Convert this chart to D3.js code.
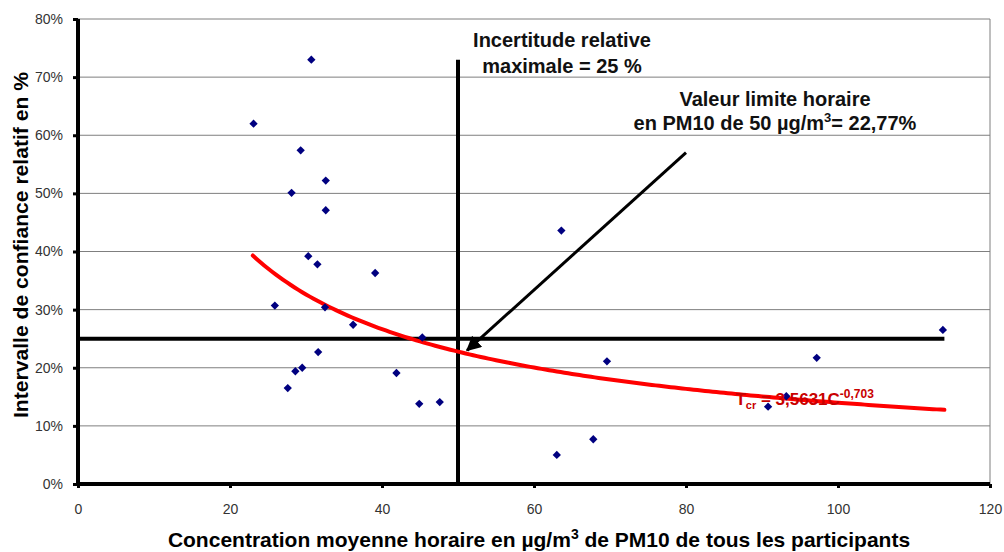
<!DOCTYPE html>
<html>
<head>
<meta charset="utf-8">
<script src="https://cdn.jsdelivr.net/npm/d3@7"></script>
<style>
  body { margin: 0; background: #fff; }
  text { font-family: "Liberation Sans", Arial, sans-serif; }
</style>
</head>
<body>
<div id="chart"></div>
<script>
// concentration (µg/m3) and relative confidence interval of each participant
var concentration = [30.7, 23.1, 29.3, 32.6, 28.1, 32.6, 30.3, 31.5, 39.1,
                     25.9, 32.5, 36.2, 45.3, 31.6, 28.6, 29.5, 27.6, 41.9, 44.9, 47.6,
                     63.6, 113.8, 69.6, 97.2, 90.8, 93.2, 67.8, 63.0];
var interval = [0.730, 0.620, 0.574, 0.522, 0.501, 0.471, 0.392, 0.378, 0.363,
                0.307, 0.304, 0.274, 0.252, 0.227, 0.194, 0.200, 0.165, 0.191, 0.138, 0.141,
                0.436, 0.265, 0.211, 0.217, 0.133, 0.151, 0.077, 0.050];

var xTicks = [0, 20, 40, 60, 80, 100, 120];
var yTicks = [0, 0.1, 0.2, 0.3, 0.4, 0.5, 0.6, 0.7, 0.8];

// power trend Tcr = a * C^b
var trendA = 3.5631;
var trendB = -0.703;
var trendRange = [23, 114];

var maxUncertainty = 0.25;      // horizontal line
var maxUncertaintyEnd = 114;
var limitValue = 50;            // vertical line
var limitValueTop = 0.73;
var arrowFrom = [80, 0.57];
var arrowTo = [51.2, 0.23];

var w = 1004, h = 552;

var x = d3.scaleLinear().domain([0, 120]).range([78, 990]);
var y = d3.scaleLinear().domain([0, 0.8]).range([484, 19]);

var svg = d3.select("#chart").append("svg")
    .attr("width", w)
    .attr("height", h);

svg.append("defs").append("marker")
    .attr("id", "head")
    .attr("viewBox", "0 0 10 10")
    .attr("refX", 9).attr("refY", 5)
    .attr("markerWidth", 5).attr("markerHeight", 5)
    .attr("orient", "auto")
    .append("path")
    .attr("d", "M0,0L10,5L0,10z")
    .attr("fill", "#000");

// gridlines
svg.selectAll("line.grid")
    .data(yTicks.slice(1))
    .enter().append("line")
    .attr("class", "grid")
    .attr("x1", x(0)).attr("x2", x(120))
    .attr("y1", function(d) { return y(d); })
    .attr("y2", function(d) { return y(d); })
    .attr("stroke", "#7f7f7f")
    .attr("stroke-width", 1);

// right border
svg.append("line")
    .attr("x1", x(120)).attr("x2", x(120))
    .attr("y1", y(0.8)).attr("y2", y(0))
    .attr("stroke", "#7f7f7f");

// axes
var yAxis = svg.append("g")
    .attr("transform", "translate(" + x(0) + ",0)")
    .call(d3.axisLeft(y).tickValues(yTicks).tickFormat(d3.format(".0%")).tickSize(5).tickPadding(10));
var xAxis = svg.append("g")
    .attr("transform", "translate(0," + y(0) + ")")
    .call(d3.axisBottom(x).tickValues(xTicks).tickSize(4).tickPadding(16));

[yAxis, xAxis].forEach(function(ax) {
    ax.select(".domain").attr("stroke", "#000").attr("stroke-width", 4);
    ax.selectAll(".tick line").attr("stroke", "#000").attr("stroke-width", 3);
    ax.selectAll(".tick text")
        .attr("font-family", "Liberation Sans, Arial, sans-serif")
        .attr("font-size", 14)
        .attr("fill", "#333");
});
xAxis.select(".domain").attr("d", "M" + x(0) + ",0H" + x(120));
yAxis.select(".domain").attr("d", "M0," + y(0.8) + "V" + y(0));

// 25% line and 50 µg/m3 line
svg.append("line")
    .attr("x1", x(0)).attr("x2", x(maxUncertaintyEnd))
    .attr("y1", y(maxUncertainty)).attr("y2", y(maxUncertainty))
    .attr("stroke", "#000").attr("stroke-width", 4);
svg.append("line")
    .attr("x1", x(limitValue)).attr("x2", x(limitValue))
    .attr("y1", y(0)).attr("y2", y(limitValueTop))
    .attr("stroke", "#000").attr("stroke-width", 4);

// trend curve
var trendPts = d3.range(trendRange[0], trendRange[1] + 0.01, 0.5).map(function(c) {
    return [c, trendA * Math.pow(c, trendB)];
});
svg.append("path")
    .datum(trendPts)
    .attr("d", d3.line().x(function(d) { return x(d[0]); }).y(function(d) { return y(d[1]); }))
    .attr("fill", "none")
    .attr("stroke", "#ff0000")
    .attr("stroke-width", 4)
    .attr("stroke-linecap", "round");

// points
svg.selectAll("path.pt")
    .data(concentration)
    .enter().append("path")
    .attr("class", "pt")
    .attr("d", d3.symbol().type(d3.symbolDiamond2).size(44))
    .attr("transform", function(d, i) { return "translate(" + x(d) + "," + y(interval[i]) + ")"; })
    .attr("fill", "#000080");

// equation label
var eq = svg.append("text")
    .attr("x", x(86.5)).attr("y", y(0.136))
    .attr("fill", "#c80000")
    .attr("font-family", "Liberation Serif, serif")
    .attr("font-weight", "bold")
    .attr("font-size", 17);
eq.append("tspan").text("T");
eq.append("tspan").attr("font-size", 11).attr("dy", 4).text("cr");
eq.append("tspan").attr("dy", -4).text(" = 3,5631C");
eq.append("tspan").attr("font-size", 12).attr("dy", -7).text("-0,703");

// arrow
svg.append("line")
    .attr("x1", x(arrowFrom[0])).attr("y1", y(arrowFrom[1]))
    .attr("x2", x(arrowTo[0])).attr("y2", y(arrowTo[1]))
    .attr("stroke", "#000").attr("stroke-width", 3)
    .attr("marker-end", "url(#head)");

// annotations
function label(lines, cx, y0, dy) {
    svg.append("text")
        .attr("text-anchor", "middle")
        .attr("font-weight", "bold")
        .attr("font-size", 20)
        .attr("fill", "#111")
        .selectAll("tspan")
        .data(lines)
        .enter().append("tspan")
        .attr("x", cx)
        .attr("y", function(d, i) { return y0 + i * dy; })
        .html(function(d) { return d; });
}
label(["Incertitude relative", "maximale = 25 %"], 562, 47, 26);
label(["Valeur limite horaire", "en PM10 de 50 µg/m<tspan dy='-8' font-size='13'>3</tspan><tspan dy='8'>= 22,77%</tspan>"], 775, 106, 24);

// axis titles
svg.append("text")
    .attr("x", 539).attr("y", 547)
    .attr("text-anchor", "middle")
    .attr("font-weight", "bold")
    .attr("font-size", 21)
    .html("Concentration moyenne horaire en µg/m<tspan dy='-8' font-size='14'>3</tspan><tspan dy='8'> de PM10 de tous les participants</tspan>");

svg.append("text")
    .attr("transform", "translate(28,245)rotate(-90)")
    .attr("text-anchor", "middle")
    .attr("font-weight", "bold")
    .attr("font-size", 20)
    .attr("textLength", 346)
    .attr("lengthAdjust", "spacingAndGlyphs")
    .text("Intervalle de confiance relatif en %");
</script>
</body>
</html>
